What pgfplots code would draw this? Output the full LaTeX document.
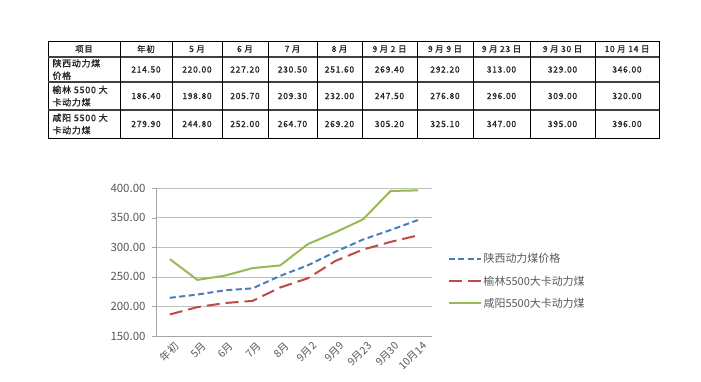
\documentclass[border=0pt]{standalone}
\usepackage{pgfplots}
\pgfplotsset{compat=1.18}
\usepackage{fontspec}
\setmainfont{Noto Sans CJK SC}
\newfontfamily\cjk{Noto Sans CJK SC}
\newfontfamily\cjkt{Noto Sans CJK SC}[FakeBold=1.2, LetterSpace=8]
\definecolor{sblue}{HTML}{4A7EBB}
\definecolor{sred}{HTML}{BE4B48}
\definecolor{sgreen}{HTML}{98B954}
\definecolor{txtgray}{HTML}{595959}
\begin{document}
\begin{tikzpicture}[x=1bp,y=1bp]
\fill[white] (0,0) rectangle (701,381);
\useasboundingbox (0,0) rectangle (701,381);
% ---- table ----
\begin{scope}[font=\cjkt\fontsize{8.5}{10}\selectfont, text=black!85]
\draw[line width=0.9bp] (48,243) rectangle (659,340);
\foreach \yy in {324,299,271} \draw[line width=1.1bp, black!75] (48,\yy) -- (659,\yy);
\foreach \xx in {120,172,222,268,317,362,417,473,530,595} \draw[line width=0.9bp] (\xx,243) -- (\xx,340);
% header
\node at (84,332) {项目};
\foreach \cx/\t in {146/年初,197/5 月,245/6 月,292.5/7 月,339.5/8 月,389.5/9 月 2 日,445/9 月 9 日,501.5/9 月 23 日,562.5/9 月 30 日,627/10 月 14 日}
  \node at (\cx,332) {\t};
% first column
\node[align=left,anchor=west,font=\cjkt\fontsize{9}{12.5}\selectfont] at (49,311.5) {陕西动力煤\\价格};
\node[align=left,anchor=west,font=\cjkt\fontsize{9}{12.5}\selectfont] at (49,285) {榆林 5500 大\\卡动力煤};
\node[align=left,anchor=west,font=\cjkt\fontsize{9}{12.5}\selectfont] at (49,257) {咸阳 5500 大\\卡动力煤};
% values
\foreach \cx/\a/\b/\c in {146/214.50/186.40/279.90,197/220.00/198.80/244.80,245/227.20/205.70/252.00,292.5/230.50/209.30/264.70,339.5/251.60/232.00/269.20,389.5/269.40/247.50/305.20,445/292.20/276.80/325.10,501.5/313.00/296.00/347.00,562.5/329.00/309.00/395.00,627/346.00/320.00/396.00}{
  \node at (\cx,311.5) {\a};
  \node at (\cx,285) {\b};
  \node at (\cx,257) {\c};
}
\end{scope}
% ---- chart ----
\begin{axis}[
  at={(156bp,45bp)}, anchor=south west,
  scale only axis, width=276bp, height=148bp,
  xmin=-0.5, xmax=9.5, ymin=150, ymax=400,
  ytick={150,200,250,300,350,400},
  axis lines*=left,
  axis line style={black!35},
  ymajorgrids, grid style={black!25, line width=0.6bp},
  tick align=outside,
  major tick length=4bp,
  tick style={black!35},
  /pgf/number format/assume math mode=true,
  yticklabel={\pgfmathprintnumber[fixed,fixed zerofill,precision=2]{\tick}},
  yticklabel style={font=\cjk\fontsize{11.5}{13}\selectfont, text=txtgray, xshift=-3bp},
  xtick={0,...,9},
  xticklabels={年初,5月,6月,7月,8月,9月2,9月9,9月23,9月30,10月14},
  major x tick style={draw=none},
  extra x ticks={-0.5,0.5,1.5,2.5,3.5,4.5,5.5,6.5,7.5,8.5,9.5},
  extra x tick labels={},
  extra x tick style={major tick length=4bp, tick style={black!35}, xmajorgrids=false},
  xticklabel style={font=\cjk\fontsize{10.5}{12}\selectfont, text=txtgray, rotate=45, anchor=north east, xshift=3bp, yshift=-2bp, inner sep=1bp},
  legend style={at={(1.045,0.585)}, anchor=north west, draw=none, fill=none,
    font=\cjk\fontsize{11}{13}\selectfont, text=txtgray, row sep=7.5bp},
  legend cell align=left,
  legend image code/.code={\draw[#1] (0bp,0bp) -- (32bp,0bp);},
]
\addplot[sblue, line width=2bp, dash pattern=on 6bp off 3.5bp] coordinates {
(0,214.5) (1,220.0) (2,227.2) (3,230.5) (4,251.6) (5,269.4) (6,292.2) (7,313.0) (8,329.0) (9,346.0)};
\addlegendentry{陕西动力煤价格}
\addplot[sred, line width=2bp, dash pattern=on 13bp off 6bp] coordinates {
(0,186.4) (1,198.8) (2,205.7) (3,209.3) (4,232.0) (5,247.5) (6,276.8) (7,296.0) (8,309.0) (9,320.0)};
\addlegendentry{榆林5500大卡动力煤}
\addplot[sgreen, line width=2bp] coordinates {
(0,279.9) (1,244.8) (2,252.0) (3,264.7) (4,269.2) (5,305.2) (6,325.1) (7,347.0) (8,395.0) (9,396.0)};
\addlegendentry{咸阳5500大卡动力煤}
\end{axis}
\end{tikzpicture}
\end{document}
